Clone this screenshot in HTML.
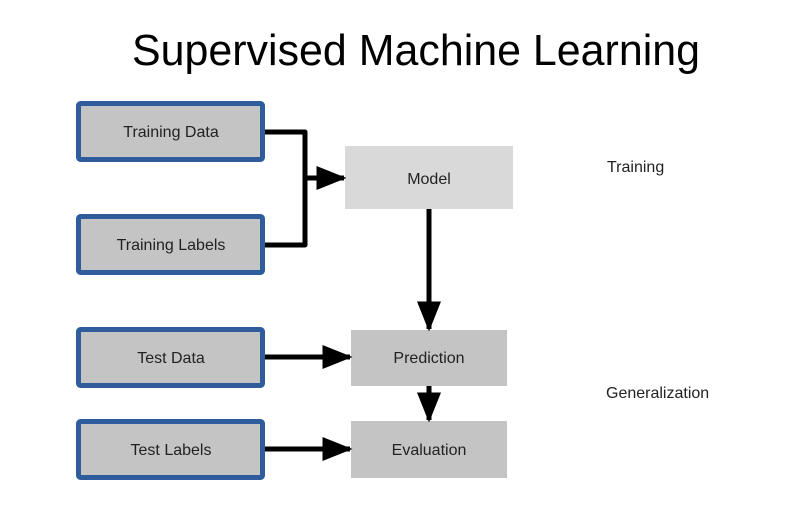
<!DOCTYPE html>
<html><head><meta charset="utf-8"><style>
html,body{margin:0;padding:0;background:#fff;}
svg{display:block;font-family:"Liberation Sans",sans-serif;}
</style></head><body>
<svg width="804" height="512" viewBox="0 0 804 512" xmlns="http://www.w3.org/2000/svg">
<defs>
<marker id="ah" markerWidth="6" markerHeight="6" refX="5.5" refY="3" orient="auto" markerUnits="strokeWidth"><path d="M0,0.6 L6,3 L0,5.4 z" fill="#000"/></marker>
</defs>
<text x="132" y="65" font-size="44" textLength="568" lengthAdjust="spacingAndGlyphs" fill="#000">Supervised Machine Learning</text>
<g fill="#c4c4c4" stroke="#2f5d9c" stroke-width="5">
<rect x="78.5" y="103.5" width="184" height="56" rx="2"/>
<rect x="78.5" y="216.5" width="184" height="56" rx="2"/>
<rect x="78.5" y="329.5" width="184" height="56" rx="2"/>
<rect x="78.5" y="421.5" width="184" height="56" rx="2"/>
</g>
<rect x="345" y="146" width="168" height="63" fill="#d9d9d9"/>
<rect x="351" y="330" width="156" height="56" fill="#c4c4c4"/>
<rect x="351" y="421" width="156" height="57" fill="#c4c4c4"/>
<g font-size="16" fill="#222" text-anchor="middle">
<text x="171" y="137">Training Data</text>
<text x="171" y="250">Training Labels</text>
<text x="171" y="363">Test Data</text>
<text x="171" y="455">Test Labels</text>
<text x="429" y="184">Model</text>
<text x="429" y="363">Prediction</text>
<text x="429" y="455">Evaluation</text>
</g>
<g font-size="16" fill="#222">
<text x="607" y="172">Training</text>
<text x="606" y="398">Generalization</text>
</g>
<g stroke="#000" stroke-width="5" fill="none">
<polyline points="265,132 305,132 305,245 265,245" stroke-linejoin="round"/>
<line x1="305" y1="178" x2="344" y2="178" marker-end="url(#ah)"/>
<line x1="429" y1="209" x2="429" y2="329" marker-end="url(#ah)"/>
<line x1="429" y1="386" x2="429" y2="420" marker-end="url(#ah)"/>
<line x1="265" y1="357" x2="350" y2="357" marker-end="url(#ah)"/>
<line x1="265" y1="449" x2="350" y2="449" marker-end="url(#ah)"/>
</g>
</svg>
</body></html>
